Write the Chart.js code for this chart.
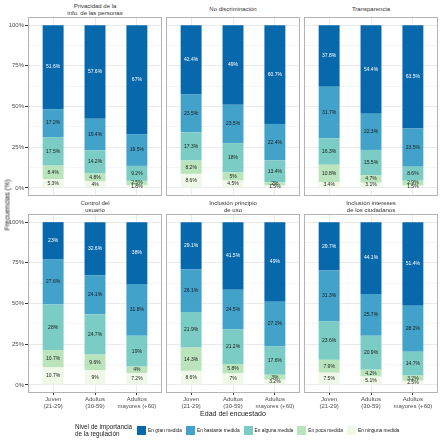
<!DOCTYPE html>
<html>
<head>
<meta charset="utf-8">
<script src="https://cdn.jsdelivr.net/npm/chart.js@4"></script>
<style>
  body { margin: 0; background: #fff; font-family: "Liberation Sans", Arial, sans-serif; }
  #wrap { position: relative; width: 442px; height: 442px; overflow: hidden; }
  canvas { position: absolute; }
  .strip { position: absolute; height: 15px; font-size: 6px; line-height: 6.5px; color: #333333;
           display: flex; align-items: center; justify-content: center; text-align: center; }
  .axis-title { position: absolute; font-size: 7px; color: #1a1a1a; white-space: nowrap; }
  #legend { position: absolute; left: 75px; top: 423px; display: flex; align-items: center; font-size: 4.8px; color: #1a1a1a; white-space: nowrap; }
  #legend .ltitle { font-size: 6.3px; line-height: 7px; margin-right: 5px; }
  #legend .key { width: 9px; height: 9px; margin-right: 2px; }
  #legend .lab { margin-right: 4px; }
</style>
</head>
<body>
<div id="wrap"></div>
<script>
const ageGroups = [['Joven', '(21-29)'], ['Adultos', '(30-59)'], ['Adultos', 'mayores (+60)']];
const levels = ['En gran medida', 'En bastante medida', 'En alguna medida', 'En poca medida', 'En ninguna medida'];
const levelColors = ['#0868ac', '#43a2ca', '#7bccc4', '#bae4bc', '#f0f9e8'];
const panelTitles = [
  ['Privacidad de la', 'info. de las personas'],
  ['No discriminación'],
  ['Transparencia'],
  ['Control del', 'usuario'],
  ['Inclusión principio', 'de uso'],
  ['Inclusión intereses', 'de los ciudadanos']
];
const yTicks = [0, 25, 50, 75, 100];

// one row per level (gran, bastante, alguna, poca, ninguna), one column per age group
const privacidad = [[51.6, 57.6, 67], [17.2, 19.4, 19.5], [17.5, 14.2, 9.2], [8.4, 4.8, 2.5], [5.3, 4, 1.8]];
const noDiscriminacion = [[42.4, 49, 60.7], [23.5, 23.5, 22.4], [17.3, 18, 13.4], [8.2, 5, 2], [8.6, 4.5, 1.5]];
const transparencia = [[37.8, 54.4, 63.5], [31.7, 22.3, 23.5], [16.3, 15.5, 8.6], [10.8, 4.7, 2.9], [3.4, 3.1, 1.5]];
const controlUsuario = [[23, 32.6, 38], [27.6, 24.1, 31.8], [28, 24.7, 19], [10.7, 9.6, 4], [10.7, 9, 7.2]];
const principioUso = [[29.1, 41.5, 49], [26.1, 24.5, 27.2], [21.9, 21.2, 17.6], [14.3, 5.8, 3], [8.6, 7, 3.2]];
const intereses = [[29.7, 44.1, 51.4], [31.3, 25.7, 28.2], [23.6, 20.9, 14.7], [7.9, 4.2, 3.2], [7.5, 5.1, 2.5]];
const panels = [privacidad, noDiscriminacion, transparencia, controlUsuario, principioUso, intereses];

// panel geometry
const colLeft = [28, 166, 304];
const rowTop = [17, 214];
const panelW = 134, panelH = 179;
const padL = 26, padR = 10, padB = 24;

Chart.defaults.font.family = '"Liberation Sans", Arial, sans-serif';

const fmt = v => Number(v.toFixed(1)) + '%';

// percentage text in the middle of each segment
const barLabels = {
  id: 'barLabels',
  afterDatasetsDraw(chart) {
    const ctx = chart.ctx;
    ctx.save();
    ctx.font = '5px "Liberation Sans", Arial, sans-serif';
    ctx.textAlign = 'center';
    ctx.textBaseline = 'middle';
    chart.data.datasets.forEach((ds, i) => {
      chart.getDatasetMeta(i).data.forEach((bar, j) => {
        ctx.fillStyle = ds.labelColor;
        ctx.fillText(fmt(ds.data[j].y), bar.x, (bar.y + bar.base) / 2);
      });
    });
    ctx.restore();
  }
};

// grey frame round the panel
const panelBorder = {
  id: 'panelBorder',
  afterDraw(chart) {
    const a = chart.chartArea;
    const ctx = chart.ctx;
    ctx.save();
    ctx.strokeStyle = '#b3b3b3';
    ctx.lineWidth = 1;
    ctx.strokeRect(a.left + 0.5, a.top + 0.5, a.right - a.left - 1, a.bottom - a.top - 1);
    ctx.restore();
  }
};

const wrap = document.getElementById('wrap');

panels.forEach((values, p) => {
  const r = Math.floor(p / 3), c = p % 3;
  const isLeft = c === 0, isBottom = r === 1;

  const strip = document.createElement('div');
  strip.className = 'strip';
  strip.style.left = colLeft[c] + 'px';
  strip.style.width = panelW + 'px';
  strip.style.top = (rowTop[r] - 15) + 'px';
  strip.innerHTML = panelTitles[p].join('<br>');
  wrap.appendChild(strip);

  const canvas = document.createElement('canvas');
  canvas.width = panelW + padL + padR;
  canvas.height = panelH + padB;
  canvas.style.left = (colLeft[c] - padL) + 'px';
  canvas.style.top = rowTop[r] + 'px';
  wrap.appendChild(canvas);

  // bottom of the stack first
  const datasets = [];
  for (let k = levels.length - 1; k >= 0; k--) {
    datasets.push({
      label: levels[k],
      data: values[k].map((y, i) => ({ x: i, y: y })),
      backgroundColor: levelColors[k],
      borderWidth: 0,
      categoryPercentage: 1,
      barPercentage: 0.5,
      labelColor: k === 0 ? '#ffffff' : '#1a1a1a'
    });
  }

  new Chart(canvas, {
    type: 'bar',
    data: { datasets },
    options: {
      responsive: false,
      devicePixelRatio: 1,
      animation: false,
      layout: { padding: { left: 0, right: padR, top: 0, bottom: 0 } },
      plugins: { legend: { display: false }, tooltip: { enabled: false } },
      scales: {
        x: {
          type: 'linear',
          stacked: true,
          min: -0.6,
          max: 2.6,
          offset: false,
          afterBuildTicks: s => { s.ticks = [0, 1, 2].map(v => ({ value: v })); },
          afterFit: s => { s.height = padB; s.paddingLeft = 0; s.paddingRight = 0; },
          grid: { offset: false, color: '#ebebeb', drawTicks: isBottom, tickLength: 2, tickColor: '#333333' },
          border: { display: false },
          ticks: {
            display: isBottom,
            autoSkip: false,
            maxRotation: 0,
            padding: 1,
            color: '#4d4d4d',
            font: { size: 6 },
            callback: v => ageGroups[v]
          }
        },
        y: {
          stacked: true,
          min: -5,
          max: 105,
          afterBuildTicks: s => {
            const t = [];
            yTicks.forEach((v, i) => { t.push({ value: v }); if (i < yTicks.length - 1) t.push({ value: v + 12.5 }); });
            s.ticks = t;
          },
          afterFit: s => { s.width = padL; s.paddingTop = 0; s.paddingBottom = 0; },
          grid: {
            color: g => (g.tick && g.tick.value % 25 === 0) ? '#ebebeb' : '#f5f5f5',
            drawTicks: isLeft,
            tickLength: 3,
            tickColor: g => (g.tick && g.tick.value % 25 === 0) ? '#333333' : 'rgba(0,0,0,0)'
          },
          border: { display: false },
          ticks: {
            display: isLeft,
            autoSkip: false,
            padding: 1,
            color: '#4d4d4d',
            font: { size: 6 },
            callback: v => (v % 25 === 0 ? v + '%' : '')
          }
        }
      }
    },
    plugins: [barLabels, panelBorder]
  });
});

// axis titles
const yTitle = document.createElement('div');
yTitle.className = 'axis-title';
yTitle.textContent = 'Frecuencias (%)';
yTitle.style.left = '7px';
yTitle.style.top = '205px';
yTitle.style.transform = 'translate(-50%, -50%) rotate(-90deg)';
wrap.appendChild(yTitle);

const xTitle = document.createElement('div');
xTitle.className = 'axis-title';
xTitle.textContent = 'Edad del encuestado';
xTitle.style.left = '233px';
xTitle.style.top = '413px';
xTitle.style.transform = 'translate(-50%, -50%)';
wrap.appendChild(xTitle);

// legend
const legend = document.createElement('div');
legend.id = 'legend';
legend.innerHTML = '<div class="ltitle">Nivel de importancia<br>de la regulación</div>' +
  levels.map((l, k) => `<div class="key" style="background:${levelColors[k]}"></div><div class="lab">${l}</div>`).join('');
wrap.appendChild(legend);
</script>
</body>
</html>
